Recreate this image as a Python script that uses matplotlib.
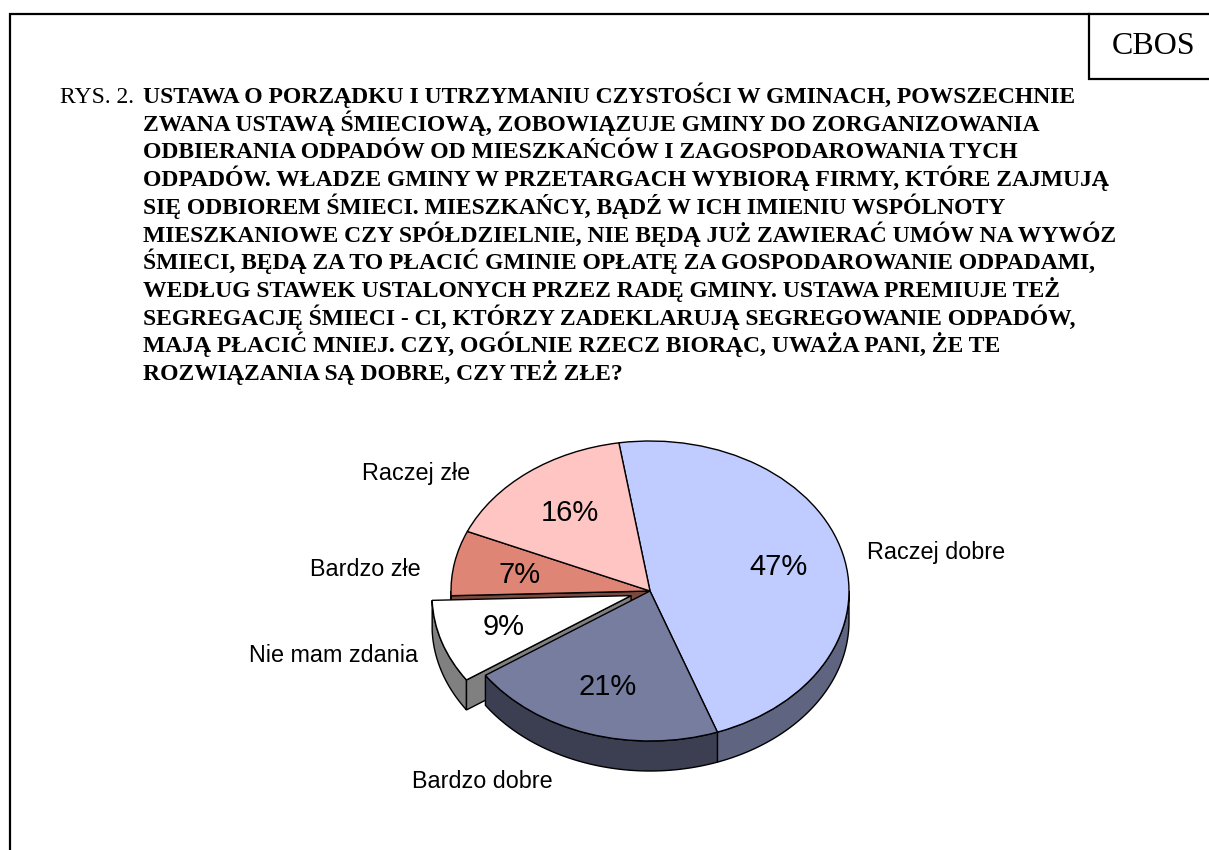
import numpy as np
import matplotlib
matplotlib.use("Agg")
import matplotlib.pyplot as plt
from matplotlib.patches import Polygon

# dane z wykresu
kategorie = ["Raczej dobre", "Bardzo dobre", "Nie mam zdania", "Bardzo złe", "Raczej złe"]
wartosci = [47, 21, 9, 7, 16]
etykiety_proc = ["47%", "21%", "9%", "7%", "16%"]
wysuniecie = [0, 0, 0.1, 0, 0]

kolory_gora = ["#C0CCFF", "#777D9F", "#FFFFFF", "#DF8576", "#FFC5C2"]
kolory_bok = ["#5F6580", "#3C3F52", "#808080", "#7A4A40", "#7F6361"]

tytul_linie = [
    "USTAWA O PORZĄDKU I UTRZYMANIU CZYSTOŚCI W GMINACH, POWSZECHNIE",
    "ZWANA USTAWĄ ŚMIECIOWĄ, ZOBOWIĄZUJE GMINY DO ZORGANIZOWANIA",
    "ODBIERANIA ODPADÓW OD MIESZKAŃCÓW I ZAGOSPODAROWANIA TYCH",
    "ODPADÓW. WŁADZE GMINY W PRZETARGACH WYBIORĄ FIRMY, KTÓRE ZAJMUJĄ",
    "SIĘ ODBIOREM ŚMIECI. MIESZKAŃCY, BĄDŹ W ICH IMIENIU WSPÓLNOTY",
    "MIESZKANIOWE CZY SPÓŁDZIELNIE, NIE BĘDĄ JUŻ ZAWIERAĆ UMÓW NA WYWÓZ",
    "ŚMIECI, BĘDĄ ZA TO PŁACIĆ GMINIE OPŁATĘ ZA GOSPODAROWANIE ODPADAMI,",
    "WEDŁUG STAWEK USTALONYCH PRZEZ RADĘ GMINY. USTAWA PREMIUJE TEŻ",
    "SEGREGACJĘ ŚMIECI - CI, KTÓRZY ZADEKLARUJĄ SEGREGOWANIE ODPADÓW,",
    "MAJĄ PŁACIĆ MNIEJ. CZY, OGÓLNIE RZECZ BIORĄC, UWAŻA PANI, ŻE TE",
    "ROZWIĄZANIA SĄ DOBRE, CZY TEŻ ZŁE?",
]

# polozenie napisow w pikselach
poz_kategorie = [(936, 552), (482, 781), (334, 655), (365, 569), (416, 473)]
poz_proc = [(778, 567), (608, 687), (504, 627), (520, 575), (570, 513)]

SZER, WYS = 1209, 850
srodek_x, srodek_y = 650, 591
rx, ry = 199, 150
glebokosc = 30 / ry
kat_start = 99

fig = plt.figure(figsize=(SZER / 100, WYS / 100), dpi=100, facecolor="white")

# os kolowa: promien 1 to elipsa rx na ry pikseli
ax = fig.add_axes([0, 0, 1, 1])
kliny, _ = ax.pie(wartosci, colors=kolory_gora, startangle=kat_start, counterclock=False,
                  explode=wysuniecie, wedgeprops={"edgecolor": "black", "linewidth": 1.0})
ax.set_aspect("auto")
ax.set_xlim(-srodek_x / rx, (SZER - srodek_x) / rx)
ax.set_ylim((srodek_y - WYS) / ry, srodek_y / ry)
ax.axis("off")

kat = kat_start
for i, w in enumerate(wartosci):
    kat_kon = kat - w * 3.6
    kat_sr = np.radians((kat + kat_kon) / 2)
    dx = wysuniecie[i] * np.cos(kat_sr)
    dy = wysuniecie[i] * np.sin(kat_sr)
    wysuniety = wysuniecie[i] > 0
    po_wysunietym = i > 0 and wysuniecie[i - 1] > 0

    kliny[i].set_zorder(2 if wysuniety else 5)

    # boczna sciana po zewnetrznej stronie luku
    od, do = max(kat_kon, -180), min(kat, 0)
    if do > od:
        t = np.radians(np.linspace(do, od, 60))
        x = np.cos(t) + dx
        y = np.sin(t) + dy
        pts = np.column_stack([np.r_[x, x[::-1]], np.r_[y, y[::-1] - glebokosc]])
        if wysuniety:
            z_bok = 1.5
        elif po_wysunietym:
            z_bok = 1
        else:
            z_bok = 4
        ax.add_patch(Polygon(pts, closed=True, facecolor=kolory_bok[i], edgecolor="black",
                             linewidth=1.0, zorder=z_bok))

    # przekroj wysunietego kawalka widoczny od strony srodka
    if wysuniety:
        t = np.radians(kat)
        pts = [(dx, dy), (np.cos(t) + dx, np.sin(t) + dy),
               (np.cos(t) + dx, np.sin(t) + dy - glebokosc), (dx, dy - glebokosc)]
        ax.add_patch(Polygon(pts, closed=True, facecolor=kolory_bok[i], edgecolor="black",
                             linewidth=1.0, zorder=1.5))

        # sciana wneki po sasiednim kawalku
        t = np.radians(kat_kon)
        pts = [(0, 0), (np.cos(t), np.sin(t)), (np.cos(t), np.sin(t) - glebokosc), (0, -glebokosc)]
        ax.add_patch(Polygon(pts, closed=True, facecolor=kolory_bok[i + 1], edgecolor="black",
                             linewidth=1.0, zorder=1))
    kat = kat_kon

# os w pikselach na ramke i napisy
ax2 = fig.add_axes([0, 0, 1, 1], facecolor="none")
ax2.set_xlim(0, SZER)
ax2.set_ylim(WYS, 0)
ax2.axis("off")

ax2.plot([10, 10, SZER], [WYS, 14, 14], color="black", lw=1.6, solid_joinstyle="miter")
ax2.plot([1089, 1089, SZER], [14, 79, 79], color="black", lw=1.6, solid_joinstyle="miter")

serif = "Liberation Serif"
sans = "Liberation Sans"
ax2.text(1154, 46, "CBOS", family=serif, fontsize=23, ha="center", va="center")
ax2.text(60, 103, "RYS. 2.", family=serif, fontsize=17, ha="left", va="baseline")
for i, linia in enumerate(tytul_linie):
    ax2.text(143, 103 + 27.7 * i, linia, family=serif, fontsize=17, fontweight="bold",
             ha="left", va="baseline")

for nazwa, (x, y) in zip(kategorie, poz_kategorie):
    ax2.text(x, y, nazwa, family=sans, fontsize=16.8, ha="center", va="center")
for proc, (x, y) in zip(etykiety_proc, poz_proc):
    ax2.text(x, y, proc, family=sans, fontsize=21, ha="center", va="center")

fig.savefig("out.png", dpi=100)
